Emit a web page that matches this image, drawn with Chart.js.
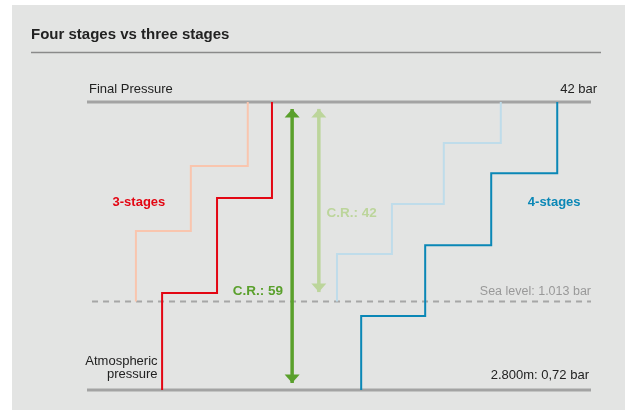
<!DOCTYPE html>
<html><head><meta charset="utf-8">
<script src="https://cdn.jsdelivr.net/npm/chart.js@4/dist/chart.umd.min.js"></script>
<style>
html,body{margin:0;padding:0;background:#fff;}
#bg{position:absolute;left:12px;top:5px;width:613px;height:405px;background:#e3e4e3;}
canvas{position:absolute;left:0;top:0;}
</style></head><body>
<div id="bg"></div>
<canvas id="c" width="625" height="410"></canvas>
<script>
// Schematic units: x 0..100 across the diagram; y 0 = 2.800m (0,72 bar), 30.7 = sea level, 100 = final pressure (42 bar)
const levelBottom = 0;
const levelSea = 30.7;
const levelTop = 100;
const threeStageX = [14.9, 25.8, 36.7];
const threeStageY = [0, 33.7, 66.7, 100];
const threeStageSeaX = [9.7, 20.6, 31.9];
const threeStageSeaY = [30.7, 55.2, 77.8, 100];
const fourStageX = [54.4, 67.1, 80.2, 93.3];
const fourStageY = [0, 25.7, 50.3, 75.3, 100];
const fourStageSeaX = [49.6, 60.5, 70.8, 82.1];
const fourStageSeaY = [30.7, 47.2, 64.6, 85.8, 100];
const arrowX = [40.7, 46.0];
const arrowLow = [2.4, 34.0];
const arrowHigh = [97.6, 97.6];
const arrowLabels = ['C.R.: 59', 'C.R.: 42'];

function steps(xs, ys) {
  const pts = [{x: xs[0], y: ys[0]}];
  for (let i = 0; i < xs.length; i++) {
    pts.push({x: xs[i], y: ys[i + 1]});
    if (i + 1 < xs.length) pts.push({x: xs[i + 1], y: ys[i + 1]});
  }
  return pts;
}

const FONT = '"Liberation Sans", Arial, sans-serif';
const C = {
  red: '#e30613', salmon: '#f9c5ae', blue: '#0a87b6', lightBlue: '#bfdcea',
  green: '#5aa02c', lightGreen: '#bcd59b', gray: '#a3a3a3', text: '#222222', muted: '#999999'
};

const labels = [
  {text: 'Final Pressure', x: 0.4, y: levelTop, dy: -13, align: 'left', color: C.text, font: '13px ' + FONT},
  {text: '42 bar', x: 101.2, y: levelTop, dy: -13, align: 'right', color: C.text, font: '13px ' + FONT},
  {text: 'Sea level: 1.013 bar', x: 100, y: levelSea, dy: -10, align: 'right', color: C.muted, font: '12.5px ' + FONT},
  {text: '2.800m: 0,72 bar', x: 99.6, y: levelBottom, dy: -15, align: 'right', color: C.text, font: '13px ' + FONT},
  {text: 'Atmospheric', x: 14.0, y: levelBottom, dy: -29, align: 'right', color: C.text, font: '13px ' + FONT},
  {text: 'pressure', x: 14.0, y: levelBottom, dy: -16, align: 'right', color: C.text, font: '13px ' + FONT},
  {text: '3-stages', x: 10.3, y: 65.3, dy: 0, align: 'center', color: C.red, font: 'bold 13px ' + FONT},
  {text: '4-stages', x: 92.7, y: 65.3, dy: 0, align: 'center', color: C.blue, font: 'bold 13px ' + FONT},
  {text: arrowLabels[0], x: 33.9, y: 34.4, dy: 0, align: 'center', color: C.green, font: 'bold 13.5px ' + FONT},
  {text: arrowLabels[1], x: 52.5, y: 61.5, dy: 0, align: 'center', color: C.lightGreen, font: 'bold 13.5px ' + FONT}
];

const line = (data, color, width, extra) => Object.assign({
  data, borderColor: color, borderWidth: width, pointRadius: 0, tension: 0,
  borderJoinStyle: 'miter', fill: false, clip: false
}, extra || {});

const datasets = [
  line(steps(threeStageX, threeStageY), C.red, 2),
  line(steps(fourStageX, fourStageY), C.blue, 2),
  line([{x: arrowX[0], y: arrowLow[0]}, {x: arrowX[0], y: arrowHigh[0]}], C.green, 3.5),
  line([{x: arrowX[1], y: arrowLow[1]}, {x: arrowX[1], y: arrowHigh[1]}], C.lightGreen, 3.5),
  line(steps(threeStageSeaX, threeStageSeaY), C.salmon, 2),
  line(steps(fourStageSeaX, fourStageSeaY), C.lightBlue, 2),
  line([{x: 0, y: levelTop}, {x: 100, y: levelTop}], C.gray, 3),
  line([{x: 0, y: levelBottom}, {x: 100, y: levelBottom}], C.gray, 3),
  line([{x: 1, y: levelSea}, {x: 100, y: levelSea}], '#a6a6a6', 2, {borderDash: [6, 5]})
];

const decor = {
  id: 'decor',
  afterDatasetsDraw(chart) {
    const ctx = chart.ctx, xs = chart.scales.x, ys = chart.scales.y;
    ctx.save();
    // arrow heads
    const colors = [C.green, C.lightGreen];
    for (let i = 0; i < arrowX.length; i++) {
      const px = xs.getPixelForValue(arrowX[i]);
      const top = ys.getPixelForValue(arrowHigh[i]);
      const bot = ys.getPixelForValue(arrowLow[i]);
      ctx.fillStyle = colors[i];
      ctx.beginPath();
      ctx.moveTo(px, top); ctx.lineTo(px - 7.5, top + 8.5); ctx.lineTo(px + 7.5, top + 8.5); ctx.closePath(); ctx.fill();
      ctx.beginPath();
      ctx.moveTo(px, bot); ctx.lineTo(px - 7.5, bot - 8.5); ctx.lineTo(px + 7.5, bot - 8.5); ctx.closePath(); ctx.fill();
    }
    // labels
    ctx.textBaseline = 'middle';
    labels.forEach(l => {
      ctx.font = l.font; ctx.fillStyle = l.color; ctx.textAlign = l.align;
      ctx.fillText(l.text, xs.getPixelForValue(l.x), ys.getPixelForValue(l.y) + l.dy);
    });
    // title
    ctx.font = 'bold 15px ' + FONT; ctx.fillStyle = C.text; ctx.textAlign = 'left';
    ctx.fillText('Four stages vs three stages', 31, 35);
    ctx.strokeStyle = '#8a8a8a'; ctx.lineWidth = 1.5;
    ctx.beginPath(); ctx.moveTo(31, 52.5); ctx.lineTo(601, 52.5); ctx.stroke();
    ctx.restore();
  }
};

new Chart(document.getElementById('c'), {
  type: 'line',
  data: {datasets},
  options: {
    responsive: false, animation: false, devicePixelRatio: 1,
    layout: {padding: {left: 87, right: 34, top: 102, bottom: 20}},
    scales: {
      x: {type: 'linear', min: 0, max: 100, display: false},
      y: {type: 'linear', min: 0, max: 100, display: false}
    },
    plugins: {legend: {display: false}, tooltip: {enabled: false}, title: {display: false}}
  },
  plugins: [decor]
});
</script>
</body></html>
